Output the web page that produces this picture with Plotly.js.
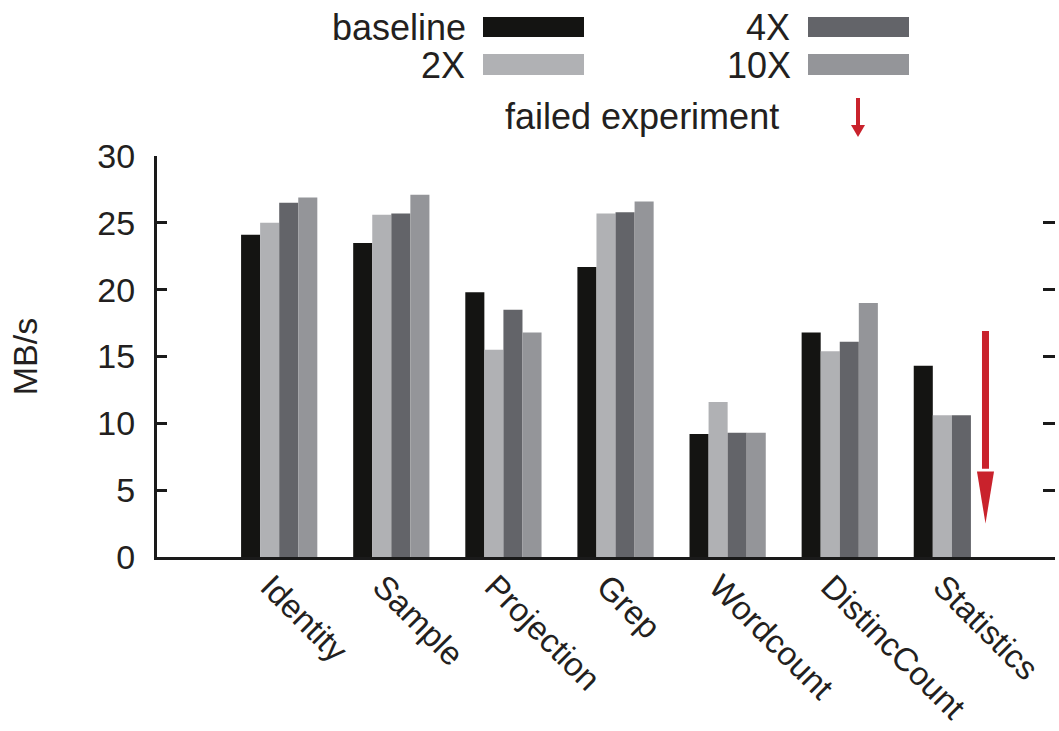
<!DOCTYPE html>
<html>
<head>
<meta charset="utf-8">
<script src="https://cdn.plot.ly/plotly-3.0.1.min.js"></script>
<style>html,body{margin:0;padding:0;background:#fff;}#chart{width:1059px;height:731px;}</style>
</head>
<body>
<div id="chart"></div>
<script>
// ---- data ----
const categories = ['Identity', 'Sample', 'Projection', 'Grep', 'Wordcount', 'DistincCount', 'Statistics'];
const seriesNames = ['baseline', '2X', '4X', '10X'];
const baseline = [24.1, 23.5, 19.8, 21.7, 9.2, 16.8, 14.3];
const x2 = [25.0, 25.6, 15.5, 25.7, 11.6, 15.4, 10.6];
const x4 = [26.5, 25.7, 18.5, 25.8, 9.3, 16.1, 10.6];
const x10 = [26.9, 27.1, 16.8, 26.6, 9.3, 19.0, null]; // Statistics 10X: failed experiment
const yTicks = [0, 5, 10, 15, 20, 25, 30];

// ---- styling ----
const colors = ['#141412', '#b0b1b4', '#636469', '#949599'];
const red = '#c9222c';
const ink = '#231f20';
const FONT = 'Liberation Sans, Arial, Helvetica, sans-serif';

const W = 1059, H = 731;
const M = {l: 157, r: 4, t: 156, b: 174};
const plotW = W - M.l - M.r, plotH = H - M.t - M.b;
const px2x = p => (p - M.l) / plotW;
const py2y = p => (H - M.b - p) / plotH;

const idx = categories.map((_, i) => i);
const allSeries = [baseline, x2, x4, x10];

const traces = allSeries.map((vals, k) => ({
  type: 'bar',
  name: seriesNames[k],
  x: idx,
  y: vals,
  marker: {color: colors[k], line: {width: 0}},
  showlegend: false,
  hoverinfo: 'x+y+name'
}));
// invisible helper trace so the mirrored right-hand tick axis is drawn
traces.push({type: 'scatter', mode: 'markers', x: idx, y: baseline, yaxis: 'y2',
  marker: {opacity: 0}, showlegend: false, hoverinfo: 'skip'});

// failed-experiment arrow geometry (annotation, data coords)
const failedArrow = {x: 6.3, top: 16.9, headBase: 6.4, tip: 2.5, halfW: 0.076};

const shapes = [];
const annotations = [];

// legend swatches (pixel boxes converted to paper)
const legendItems = [
  {name: seriesNames[0], c: colors[0], tx: 468, x0: 483, x1: 584, y0: 17, y1: 37},
  {name: seriesNames[1], c: colors[1], tx: 467, x0: 483, x1: 584, y0: 54, y1: 75},
  {name: seriesNames[2], c: colors[2], tx: 792, x0: 808, x1: 909, y0: 17, y1: 37},
  {name: seriesNames[3], c: colors[3], tx: 793, x0: 808, x1: 909, y0: 54, y1: 75}
];
legendItems.forEach(it => {
  shapes.push({type: 'rect', xref: 'paper', yref: 'paper',
    x0: px2x(it.x0), x1: px2x(it.x1), y0: py2y(it.y1), y1: py2y(it.y0),
    fillcolor: it.c, line: {width: 0}});
  annotations.push({xref: 'paper', yref: 'paper', x: px2x(it.tx), y: py2y((it.y0 + it.y1) / 2 + 1),
    xanchor: 'right', yanchor: 'middle', text: it.name, showarrow: false,
    font: {family: FONT, size: 36, color: ink}});
});
annotations.push({xref: 'paper', yref: 'paper', x: px2x(781), y: py2y(117),
  xanchor: 'right', yanchor: 'middle', text: 'failed experiment', showarrow: false,
  font: {family: FONT, size: 36, color: ink}});

// legend arrow
shapes.push({type: 'line', xref: 'paper', yref: 'paper',
  x0: px2x(858), x1: px2x(858), y0: py2y(98), y1: py2y(126), line: {color: red, width: 4}});
shapes.push({type: 'path', xref: 'paper', yref: 'paper',
  path: `M ${px2x(851)},${py2y(125)} L ${px2x(865)},${py2y(125)} L ${px2x(858)},${py2y(137)} Z`,
  fillcolor: red, line: {width: 0}});

// plot arrow for failed experiment
shapes.push({type: 'line', xref: 'x', yref: 'y',
  x0: failedArrow.x, x1: failedArrow.x, y0: failedArrow.top, y1: failedArrow.headBase + 0.2,
  line: {color: red, width: 7}});
shapes.push({type: 'path', xref: 'x', yref: 'y',
  path: `M ${failedArrow.x - failedArrow.halfW},${failedArrow.headBase} L ${failedArrow.x + failedArrow.halfW},${failedArrow.headBase} L ${failedArrow.x},${failedArrow.tip} Z`,
  fillcolor: red, line: {width: 0}});

const layout = {
  width: W, height: H,
  margin: M,
  paper_bgcolor: '#fff', plot_bgcolor: '#fff',
  barmode: 'group', bargap: 0.32, bargroupgap: 0,
  font: {family: FONT, size: 34, color: ink},
  xaxis: {
    range: [-1.09, 6.92],
    tickvals: idx, ticktext: categories,
    tickangle: 45,
    ticks: '',
    ticklabelshift: -9,
    ticklabelstandoff: -6,
    showgrid: false, zeroline: false,
    showline: true, linecolor: '#1a1a1a', linewidth: 3,
    tickfont: {family: FONT, size: 33, color: ink},
    fixedrange: true
  },
  yaxis: {
    range: [0, 30],
    tickvals: yTicks,
    ticks: 'inside', ticklen: 10, tickwidth: 3, tickcolor: '#1a1a1a',
    showgrid: false, zeroline: false,
    showline: true, linecolor: '#1a1a1a', linewidth: 3,
    tickfont: {family: FONT, size: 34, color: ink},
    ticklabelstandoff: 12,
    title: {text: 'MB/s', font: {family: FONT, size: 34, color: ink}, standoff: 50},
    fixedrange: true
  },
  yaxis2: {
    overlaying: 'y', side: 'right', anchor: 'x',
    range: [0, 30], tickvals: yTicks,
    ticks: 'inside', ticklen: 12, tickwidth: 3, tickcolor: '#1a1a1a',
    showticklabels: false, showline: false, showgrid: false, zeroline: false,
    fixedrange: true
  },
  shapes: shapes,
  annotations: annotations,
  showlegend: false
};

Plotly.newPlot('chart', traces, layout, {displayModeBar: false, staticPlot: true});
</script>
</body>
</html>
